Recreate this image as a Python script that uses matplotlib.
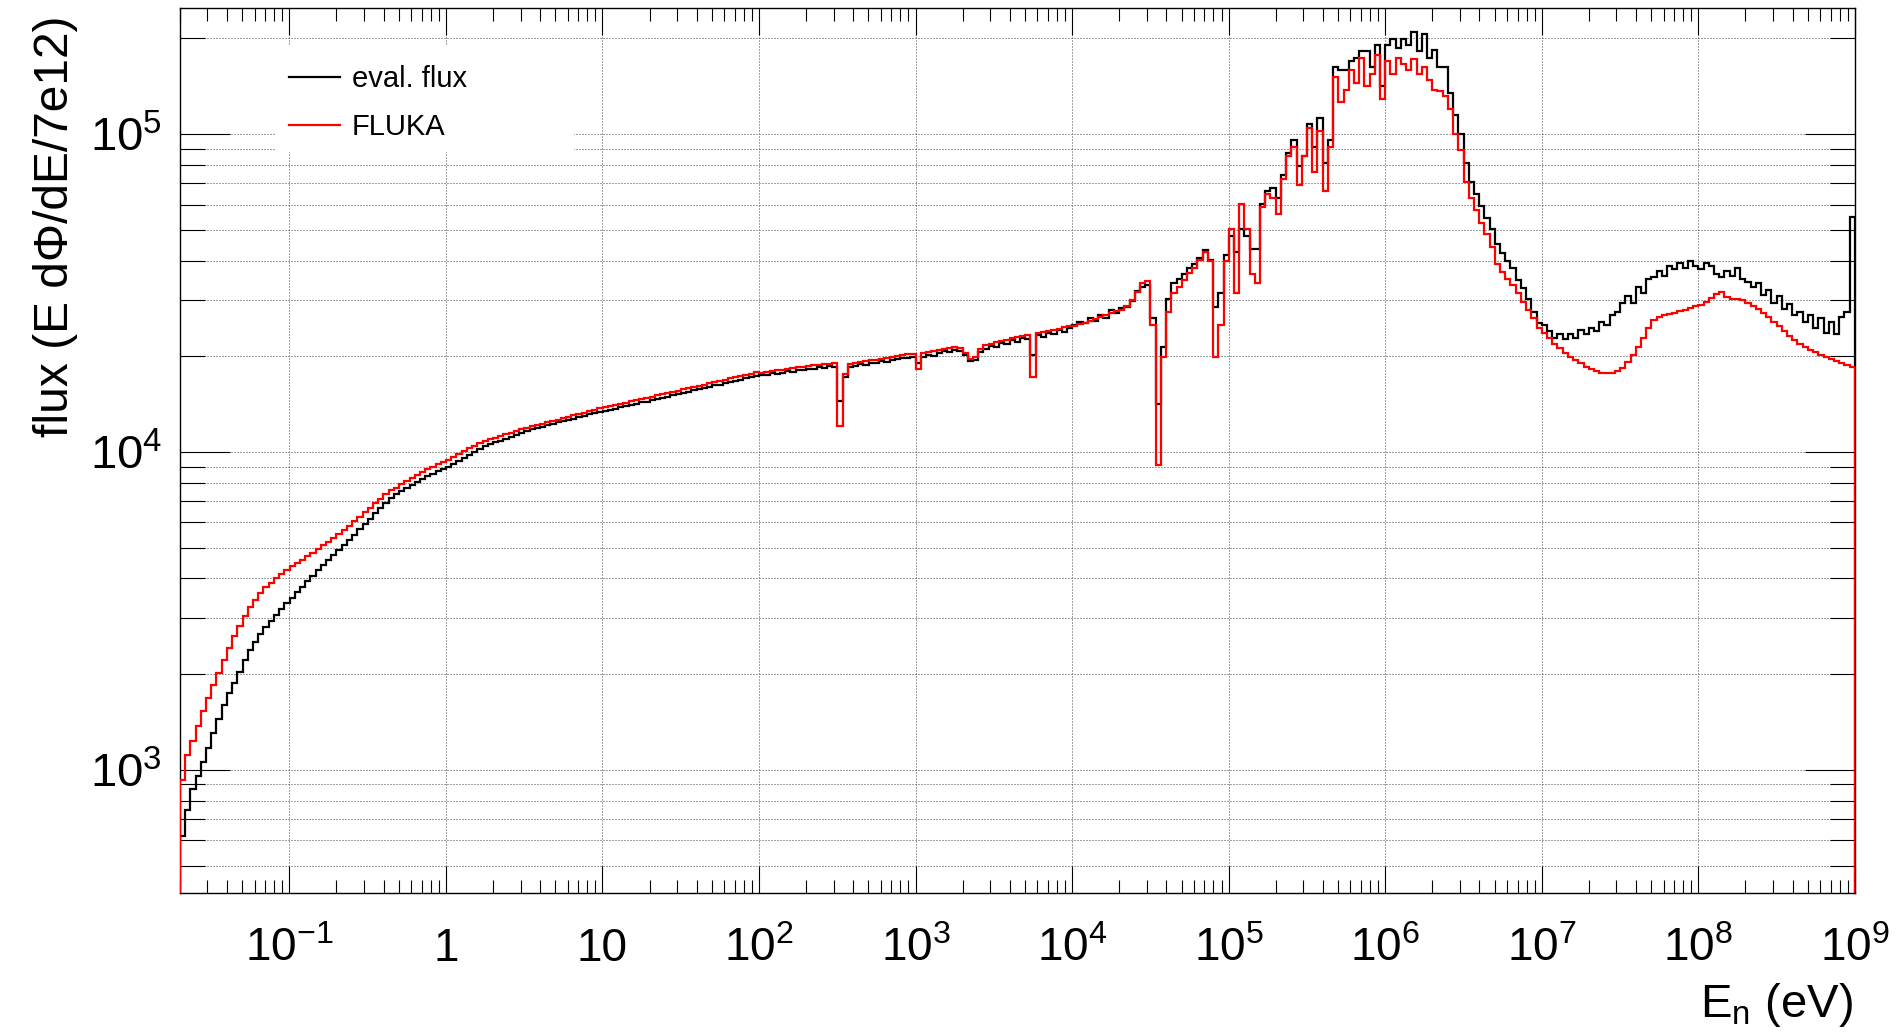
import numpy as np
import matplotlib
matplotlib.use('Agg')
import matplotlib.pyplot as plt
from matplotlib.lines import Line2D
from matplotlib.patches import Rectangle
from matplotlib.ticker import LogLocator, NullFormatter

plt.rcParams['font.family'] = ['Liberation Sans', 'DejaVu Sans']
plt.rcParams['mathtext.fontset'] = 'custom'
plt.rcParams['mathtext.rm'] = 'Liberation Sans'
plt.rcParams['mathtext.it'] = 'Liberation Sans:italic'
plt.rcParams['mathtext.bf'] = 'Liberation Sans:bold'

# energy range of the histograms (eV), 30 log bins per decade
e_min = 0.02
e_max = 1e9

# eval. flux, one row block per decade
eval_flux = [
    620, 750, 870, 955, 1060, 1175, 1310, 1445, 1600, 1740,
    1880, 2030, 2210, 2390, 2530, 2670, 2820, 2950, 3080, 3200,
    3340,
    3480, 3620, 3770, 3930, 4080, 4250, 4410, 4570, 4730, 4910,
    5090, 5280, 5500, 5720, 5930, 6170, 6410, 6670, 6930, 7180,
    7350, 7520, 7690, 7870, 8050, 8220, 8380, 8530, 8690, 8830,
    8970, 9160, 9380, 9570, 9800, 10000, 10230, 10420, 10570, 10720,
    10860, 11020, 11140, 11300, 11460, 11610, 11780, 11890, 12020, 12130,
    12250, 12390, 12500, 12620, 12740, 12850, 12970, 13120, 13240, 13370,
    13460, 13590, 13670, 13840, 13910, 14080, 14170, 14320, 14410, 14580,
    14660, 14830, 14930, 15090, 15190, 15370, 15460, 15640, 15740, 15910,
    16020, 16200, 16300, 16480, 16580, 16770, 16880, 17070, 17180, 17370,
    17500, 17460, 17700, 17620, 17780, 17990, 17910, 18110, 18070, 18280,
    18200, 18450, 18410, 18620, 18540, 14450, 17180, 18540, 18620, 18880,
    18790, 19050, 19100, 19320, 19190, 19500, 19590, 19770, 19680, 19950,
    19050, 19950, 20230, 20040, 20510, 20800, 20650, 20990, 20800, 20180,
    19280, 19500, 20650, 21140, 21530, 21380, 21980, 21780, 22490, 22130,
    22910, 22700, 20180, 23330, 23010, 23710, 23440, 24150, 23880, 24550,
    25000, 25700, 25410, 26300, 25820, 26920, 26420, 27860, 27420, 28310,
    28510, 29850, 31990, 33110, 33500, 26300, 14190, 21380, 30200, 33880,
    35080, 36310, 38020, 38900, 40740, 43150, 40270, 28510, 31620, 41690,
    47860, 42660, 50120, 47860, 43650, 43650, 60260, 66070, 67610, 63100,
    74130, 87100, 95500, 79430, 85110, 107200, 91200, 112200, 81280, 95500,
    162200, 158500, 158500, 169800, 173800, 182000, 182000, 162200, 190500, 141300,
    190500, 199500, 186200, 199500, 190500, 208900, 182000, 206500, 173800, 184100,
    162200, 162200, 134900, 114800, 100000, 81280, 70790, 64570, 59570, 54330,
    50120, 45190, 42170, 39810, 38020, 34670, 32730, 30200, 27540, 25410,
    25120, 23990, 22910, 23440, 22650, 23440, 22910, 24270, 23440, 24550,
    23990, 25700, 25120, 26920, 27540, 29510, 30900, 29510, 33110, 31620,
    35080, 35480, 37150, 35890, 38460, 37580, 39360, 38020, 39810, 38460,
    37580, 39360, 38460, 36310, 35480, 37150, 35890, 38020, 35080, 34280,
    33110, 33880, 31260, 32360, 29510, 30900, 28180, 29170, 26920, 27540,
    25700, 26920, 24550, 26300, 23710, 25700, 23440, 26610, 27540, 54950,
]

# FLUKA flux
fluka_flux = [
    930, 1110, 1235, 1375, 1535, 1685, 1850, 2020, 2210, 2415,
    2640, 2840, 3040, 3260, 3420, 3590, 3765, 3880, 4000, 4120,
    4250,
    4370, 4470, 4580, 4700, 4820, 4940, 5080, 5220, 5380, 5530,
    5700, 5860, 6050, 6250, 6460, 6670, 6890, 7110, 7350, 7570,
    7730, 7910, 8090, 8280, 8470, 8650, 8810, 8970, 9140, 9290,
    9460, 9660, 9860, 10050, 10260, 10470, 10670, 10840, 10970, 11090,
    11220, 11350, 11510, 11640, 11780, 11910, 12050, 12160, 12270, 12390,
    12530, 12650, 12760, 12880, 13030, 13150, 13270, 13430, 13550, 13710,
    13800, 13920, 14040, 14170, 14290, 14420, 14540, 14670, 14800, 14930,
    15060, 15190, 15330, 15460, 15600, 15740, 15880, 16020, 16160, 16300,
    16450, 16590, 16740, 16880, 17030, 17180, 17330, 17490, 17640, 17790,
    17780, 17870, 17990, 18070, 18160, 18280, 18370, 18450, 18540, 18620,
    18710, 18790, 18880, 18970, 19010, 12110, 17580, 18920, 19050, 19190,
    19280, 19410, 19500, 19630, 19770, 19910, 20000, 20140, 20280, 20370,
    18280, 20510, 20650, 20800, 20940, 21090, 21230, 21330, 21180, 20510,
    19630, 19950, 21140, 21680, 21930, 22130, 22340, 22540, 22750, 22960,
    23170, 23390, 17180, 23660, 23820, 23990, 24210, 24430, 24660, 24890,
    24890, 25180, 25470, 25820, 26180, 26610, 26980, 27350, 27670, 27990,
    28710, 30060, 31840, 33880, 34500, 25120, 9080, 19950, 27540, 31620,
    33110, 34670, 36480, 38020, 40270, 42660, 39810, 19950, 25120, 39810,
    50120, 31620, 60260, 50120, 36310, 33880, 58880, 64570, 63100, 56230,
    72440, 85110, 91200, 69180, 85110, 104700, 75860, 102300, 66070, 91200,
    151400, 125900, 138000, 158500, 144500, 173800, 141300, 154900, 177800, 128800,
    169800, 154900, 173800, 166000, 158500, 171800, 154900, 162200, 147900, 138000,
    136500, 131800, 120200, 100000, 89130, 70790, 63100, 57540, 52480, 48420,
    44160, 38900, 36730, 35080, 33500, 31620, 29650, 27860, 26300, 24550,
    23710, 22750, 21880, 21180, 20460, 19860, 19450, 19010, 18540, 18200,
    17950, 17780, 17740, 17780, 17950, 18410, 19190, 20180, 21380, 22910,
    24550, 26000, 26610, 26920, 27160, 27420, 27670, 27990, 28310, 28710,
    29040, 29650, 30480, 31330, 31840, 30620, 30340, 30200, 29990, 29510,
    28840, 28180, 27350, 26550, 25700, 24830, 24040, 23230, 22440, 21880,
    21430, 20990, 20610, 20230, 19910, 19590, 19280, 19010, 18750, 18490,
]

series_labels = ['eval. flux', 'FLUKA']
series_colors = ['black', 'red']

x_ticks = [1e-1, 1, 10, 1e2, 1e3, 1e4, 1e5, 1e6, 1e7, 1e8, 1e9]
x_tick_labels = ['$10^{-1}$', '1', '10', '$10^{2}$', '$10^{3}$', '$10^{4}$',
                 '$10^{5}$', '$10^{6}$', '$10^{7}$', '$10^{8}$', '$10^{9}$']
y_ticks = [1e3, 1e4, 1e5]
y_tick_labels = ['$10^{3}$', '$10^{4}$', '$10^{5}$']

edges = np.logspace(np.log10(e_min), np.log10(e_max), len(eval_flux) + 1)

fig = plt.figure(figsize=(19.04, 10.32), dpi=100)
ax = fig.add_axes([0.0945, 0.1347, 0.8797, 0.8580])

for values, color in zip([eval_flux, fluka_flux], series_colors):
    ax.stairs(values, edges, baseline=1, color=color, lw=1.6, zorder=5)

ax.set_xscale('log')
ax.set_yscale('log')
ax.set_xlim(e_min, e_max)
ax.set_ylim(410, 2.5e5)

ax.set_xticks(x_ticks, x_tick_labels)
ax.set_yticks(y_ticks, y_tick_labels)
ax.xaxis.set_minor_locator(LogLocator(base=10, subs=np.arange(2, 10), numticks=40))
ax.yaxis.set_minor_locator(LogLocator(base=10, subs=np.arange(2, 10), numticks=40))
ax.xaxis.set_minor_formatter(NullFormatter())
ax.yaxis.set_minor_formatter(NullFormatter())

ax.tick_params(which='both', direction='in', top=True, right=True, width=0.8, colors='black')
ax.tick_params(axis='x', which='major', length=19.5, pad=49, labelsize=33)
ax.tick_params(axis='x', which='minor', length=9.7)
ax.tick_params(axis='y', which='major', length=36, pad=13, labelsize=34)
ax.tick_params(axis='y', which='minor', length=18)
for lbl in ax.get_xticklabels():
    lbl.set_va('baseline')

grid_style = dict(color='#444444', lw=0.72, linestyle=(0, (1, 2)))
ax.grid(True, axis='x', which='major', **grid_style)
ax.grid(True, axis='y', which='both', **grid_style)
ax.set_axisbelow(True)
for spine in ax.spines.values():
    spine.set_linewidth(1.0)

ax.set_xlabel('E$_{\\mathrm{n}}$ (eV)', fontsize=34, loc='right')
ax.xaxis.label.set_va('baseline')
ax.xaxis.set_label_coords(0.9988, -0.140)

ax.set_ylabel('flux (E dΦ/dE/7e12)', fontsize=34.5, loc='top')
ax.yaxis.label.set_rotation_mode('anchor')
ax.yaxis.label.set_ha('right')
ax.yaxis.label.set_va('baseline')
ax.yaxis.set_label_coords(-0.0669, 0.9915)

# legend: white box without border, ROOT style
ax.add_patch(Rectangle((0.0567, 0.8368), 0.1785, 0.1209, transform=ax.transAxes,
                       facecolor='white', edgecolor='none', zorder=3))
handles = [Line2D([], [], color=c, lw=1.6) for c in series_colors]
ax.legend(handles, series_labels, loc='upper left', bbox_to_anchor=(0.0651, 0.935),
          frameon=False, borderpad=0, borderaxespad=0, handlelength=1.75,
          handletextpad=0.41, labelspacing=0.69,
          prop={'family': ['Liberation Sans', 'DejaVu Sans'], 'size': 21})

fig.savefig('out.png', dpi=100, facecolor='white')
